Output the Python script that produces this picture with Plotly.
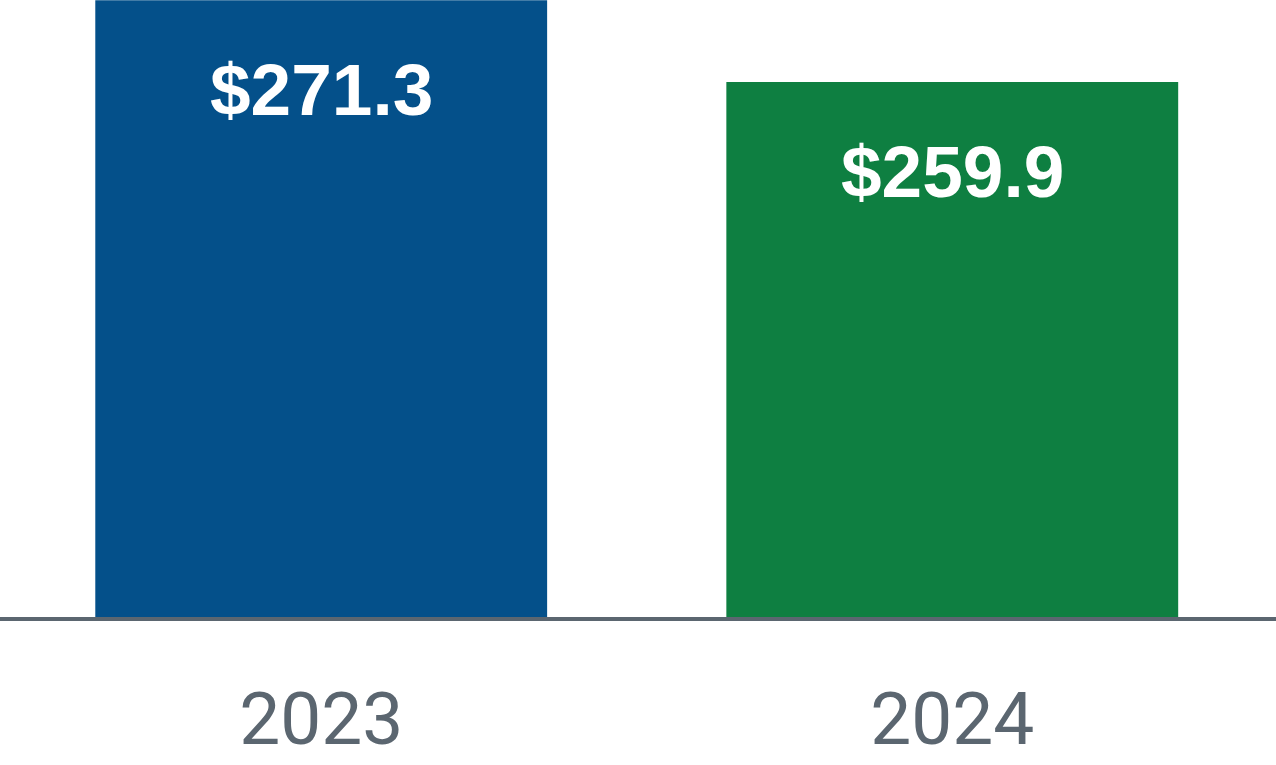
import plotly.graph_objects as go

categories = ["2023", "2024"]
values = [271.3, 259.9]
labels = ["$271.3", "$259.9"]
colors = ["#04508A", "#0E7F41"]

fig = go.Figure()
fig.add_trace(go.Bar(
    x=categories, y=values,
    marker=dict(color=colors, line=dict(width=0)),
    width=0.716,
    hoverinfo="skip",
))

# on a category axis numeric-looking strings are read as indices, so use the index
for i, (v, t) in enumerate(zip(values, labels)):
    fig.add_annotation(
        x=i, y=v, xref="x", yref="y", text="<b>" + t + "</b>", showarrow=False,
        yanchor="middle", yshift=-89,
        font=dict(family="Liberation Sans, Arial, sans-serif", size=73, color="white"),
    )

fig.update_layout(
    width=1276, height=765,
    margin=dict(l=0, r=0, t=0, b=148, pad=0),
    paper_bgcolor="white", plot_bgcolor="white",
    showlegend=False,
    xaxis=dict(
        type="category",
        range=[-0.509, 1.513],
        showline=True, linecolor="#5B6670", linewidth=4,
        showgrid=False, zeroline=False, automargin=False,
        ticks="", ticklabelstandoff=35,
        tickfont=dict(family="Roboto, sans-serif", size=73, color="#5B6670"),
    ),
    yaxis=dict(
        range=[185.4, 271.32],
        visible=False, showgrid=False, zeroline=False,
    ),
)

fig.write_html(
    "out.html",
    config={"displayModeBar": False, "staticPlot": True},
    post_script="document.body.style.margin='0';document.body.style.overflow='hidden';",
)
